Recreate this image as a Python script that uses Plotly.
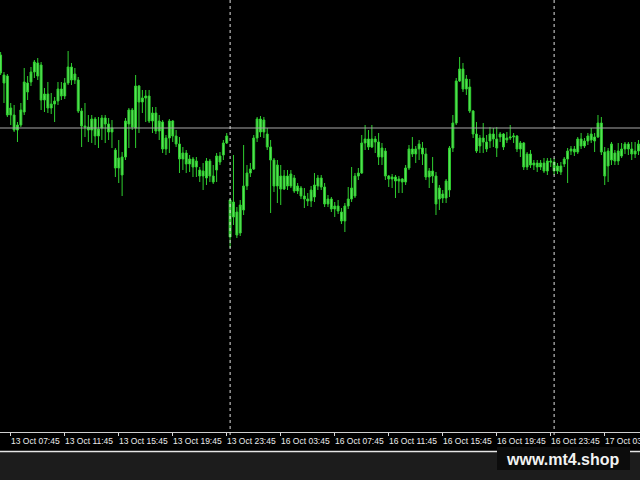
import plotly.graph_objects as go

# ---------------- data (15-minute bars, 13 Oct 07:00 -> 17 Oct 06:15) ----------------
opens = [
    112.45, 112.25, 112.24, 111.85, 111.85, 111.70, 111.75, 111.88, 112.17, 112.18,
    112.28, 112.37, 112.35, 112.00, 112.06, 111.92, 111.96, 111.99, 112.11, 112.04,
    112.17, 112.33, 112.20, 112.20, 111.89, 111.74, 111.73, 111.70, 111.81, 111.64,
    111.72, 111.82, 111.76, 111.68, 111.50, 111.32, 111.25, 111.43, 111.76, 111.90,
    111.72, 112.14, 111.98, 112.02, 112.04, 111.79, 111.87, 111.69, 111.78, 111.51,
    111.62, 111.79, 111.64, 111.56, 111.41, 111.47, 111.36, 111.41, 111.33, 111.30,
    111.24, 111.22, 111.39, 111.24, 111.30, 111.44, 111.45, 111.57, 111.00, 110.83,
    110.88, 110.67, 110.90, 111.14, 111.27, 111.31, 111.62, 111.81, 111.68, 111.66,
    111.53, 111.40, 111.14, 111.24, 111.11, 111.24, 111.14, 111.22, 111.09, 111.12,
    111.04, 111.01, 110.99, 111.03, 111.14, 111.22, 111.13, 110.96, 111.01, 110.91,
    110.94, 110.88, 110.79, 110.94, 111.01, 111.04, 111.24, 111.27, 111.57, 111.61,
    111.53, 111.61, 111.58, 111.43, 111.49, 111.24, 111.21, 111.23, 111.19, 111.21,
    111.18, 111.32, 111.51, 111.46, 111.51, 111.52, 111.46, 111.23, 111.29, 111.24,
    111.01, 111.06, 111.02, 111.10, 111.52, 111.77, 112.19, 112.31, 112.11, 112.13,
    111.89, 111.66, 111.54, 111.62, 111.58, 111.59, 111.66, 111.61, 111.63, 111.66,
    111.60, 111.62, 111.63, 111.64, 111.51, 111.57, 111.33, 111.46, 111.35, 111.37,
    111.33, 111.37, 111.29, 111.39, 111.38, 111.29, 111.34, 111.36, 111.41, 111.49,
    111.51, 111.48, 111.61, 111.54, 111.59, 111.60, 111.63, 111.63, 111.77, 111.48,
    111.34, 111.40, 111.47, 111.39, 111.44, 111.51, 111.56, 111.51, 111.46, 111.49,
]
highs = [
    112.48, 112.28, 112.26, 111.97, 111.95, 111.78, 111.97, 112.32, 112.24, 112.33,
    112.40, 112.42, 112.38, 112.12, 112.18, 112.07, 112.03, 112.18, 112.18, 112.22,
    112.49, 112.37, 112.32, 112.23, 111.92, 111.97, 111.85, 111.85, 111.83, 111.83,
    111.85, 111.85, 111.82, 111.80, 111.52, 111.60, 111.48, 111.82, 111.92, 111.92,
    112.25, 112.15, 112.10, 112.10, 112.10, 111.93, 111.93, 111.85, 111.80, 111.65,
    111.81, 111.80, 111.70, 111.63, 111.53, 111.50, 111.45, 111.43, 111.43, 111.33,
    111.37, 111.42, 111.41, 111.35, 111.47, 111.48, 111.60, 111.67, 111.01, 111.45,
    110.93, 111.00, 111.55, 111.35, 111.37, 111.65, 111.83, 111.84, 111.83, 111.72,
    111.60, 111.42, 111.40, 111.35, 111.30, 111.30, 111.30, 111.25, 111.17, 111.14,
    111.12, 111.07, 111.14, 111.27, 111.25, 111.25, 111.17, 111.05, 111.03, 110.98,
    111.00, 110.92, 110.97, 111.13, 111.33, 111.27, 111.32, 111.65, 111.75, 111.70,
    111.75, 111.64, 111.67, 111.57, 111.52, 111.25, 111.26, 111.25, 111.24, 111.22,
    111.35, 111.55, 111.63, 111.54, 111.60, 111.58, 111.52, 111.32, 111.43, 111.28,
    111.15, 111.10, 111.21, 111.54, 111.85, 112.22, 112.43, 112.37, 112.25, 112.21,
    111.90, 111.78, 111.65, 111.77, 111.65, 111.73, 111.72, 111.73, 111.68, 111.67,
    111.68, 111.75, 111.67, 111.65, 111.59, 111.58, 111.48, 111.50, 111.40, 111.40,
    111.40, 111.42, 111.42, 111.42, 111.42, 111.37, 111.38, 111.43, 111.52, 111.54,
    111.54, 111.63, 111.67, 111.62, 111.67, 111.72, 111.67, 111.85, 111.83, 111.53,
    111.52, 111.58, 111.50, 111.57, 111.57, 111.58, 111.58, 111.58, 111.58, 111.60,
]
lows = [
    112.25, 111.97, 111.83, 111.75, 111.68, 111.58, 111.73, 111.85, 112.00, 112.14,
    112.22, 112.20, 111.90, 111.88, 111.87, 111.86, 111.78, 111.95, 112.00, 112.01,
    112.15, 112.15, 112.16, 111.87, 111.53, 111.63, 111.58, 111.57, 111.55, 111.52,
    111.60, 111.57, 111.60, 111.52, 111.23, 111.17, 111.04, 111.40, 111.52, 111.70,
    111.52, 111.67, 111.87, 111.78, 111.77, 111.67, 111.66, 111.60, 111.47, 111.45,
    111.47, 111.58, 111.53, 111.27, 111.30, 111.27, 111.28, 111.23, 111.23, 111.18,
    111.10, 111.15, 111.18, 111.16, 111.18, 111.35, 111.40, 111.56, 110.52, 110.75,
    110.62, 110.64, 110.85, 111.10, 111.23, 111.30, 111.58, 111.63, 111.62, 111.50,
    110.87, 111.08, 110.97, 110.95, 111.10, 111.10, 111.12, 111.07, 111.06, 111.01,
    110.92, 110.94, 110.93, 110.98, 111.10, 111.10, 110.93, 110.93, 110.88, 110.83,
    110.86, 110.76, 110.68, 110.91, 110.98, 111.02, 111.20, 111.26, 111.50, 111.50,
    111.52, 111.47, 111.35, 111.35, 111.20, 111.13, 111.12, 111.02, 111.07, 111.07,
    111.15, 111.30, 111.43, 111.37, 111.40, 111.35, 111.20, 111.12, 111.17, 110.85,
    110.90, 110.97, 110.97, 111.03, 111.48, 111.75, 112.18, 112.08, 112.05, 111.87,
    111.62, 111.47, 111.47, 111.47, 111.48, 111.52, 111.53, 111.43, 111.58, 111.50,
    111.57, 111.60, 111.57, 111.48, 111.43, 111.30, 111.30, 111.32, 111.30, 111.28,
    111.30, 111.27, 111.25, 111.33, 111.25, 111.26, 111.25, 111.33, 111.17, 111.45,
    111.44, 111.46, 111.51, 111.52, 111.55, 111.57, 111.48, 111.62, 111.45, 111.15,
    111.18, 111.35, 111.35, 111.35, 111.42, 111.46, 111.45, 111.40, 111.42, 111.45,
]
closes = [
    112.27, 112.17, 111.85, 111.92, 111.70, 111.75, 111.90, 112.18, 112.08, 112.28,
    112.38, 112.24, 112.00, 112.06, 111.92, 111.96, 111.99, 112.11, 112.04, 112.17,
    112.33, 112.20, 112.26, 111.89, 111.74, 111.73, 111.70, 111.81, 111.64, 111.71,
    111.82, 111.76, 111.68, 111.72, 111.32, 111.42, 111.43, 111.79, 111.90, 111.73,
    112.14, 111.98, 112.02, 112.04, 111.79, 111.87, 111.69, 111.79, 111.51, 111.62,
    111.79, 111.64, 111.56, 111.41, 111.47, 111.36, 111.41, 111.33, 111.39, 111.24,
    111.29, 111.39, 111.24, 111.18, 111.44, 111.38, 111.57, 111.64, 110.63, 110.98,
    110.65, 110.95, 111.14, 111.27, 111.31, 111.62, 111.81, 111.68, 111.80, 111.53,
    111.40, 111.14, 111.35, 111.11, 111.24, 111.14, 111.26, 111.09, 111.14, 111.04,
    111.01, 110.99, 111.10, 111.15, 111.22, 111.13, 110.96, 111.01, 110.91, 110.94,
    110.89, 110.79, 110.94, 111.01, 111.12, 111.24, 111.27, 111.57, 111.61, 111.53,
    111.61, 111.58, 111.43, 111.52, 111.24, 111.21, 111.23, 111.19, 111.21, 111.18,
    111.32, 111.51, 111.46, 111.51, 111.56, 111.46, 111.23, 111.29, 111.24, 110.96,
    111.12, 111.02, 111.19, 111.52, 111.77, 112.19, 112.31, 112.11, 112.21, 111.89,
    111.66, 111.49, 111.62, 111.58, 111.51, 111.66, 111.61, 111.52, 111.66, 111.53,
    111.62, 111.63, 111.64, 111.51, 111.57, 111.33, 111.46, 111.35, 111.37, 111.33,
    111.37, 111.29, 111.39, 111.38, 111.29, 111.34, 111.28, 111.41, 111.49, 111.51,
    111.48, 111.61, 111.54, 111.59, 111.64, 111.66, 111.59, 111.77, 111.48, 111.24,
    111.49, 111.56, 111.39, 111.49, 111.51, 111.56, 111.51, 111.46, 111.49, 111.56,
]

tick_bars = [3, 19, 35, 51, 67, 83, 99, 115, 131, 147, 163, 179]
tick_labels = ["13 Oct 07:45", "13 Oct 11:45", "13 Oct 15:45", "13 Oct 19:45",
               "13 Oct 23:45", "16 Oct 03:45", "16 Oct 07:45", "16 Oct 11:45",
               "16 Oct 15:45", "16 Oct 19:45", "16 Oct 23:45", "17 Oct 03:45"]
offscreen_label = "13 Oct 03:45"
separator_bars = [68, 164]
hline_price = 111.72
watermark = "www.mt4.shop"

bars = list(range(len(opens)))

# ---------------- figure ----------------
W, H = 640, 480
PLOT_H = 432
BOTTOM = H - PLOT_H


def py(px_below):
    """paper y for a pixel offset below the plot area."""
    return -px_below / PLOT_H


GREEN_FILL = "#5ee65e"
GREEN_LINE = "#2fcf2f"

fig = go.Figure(go.Candlestick(
    x=bars, open=opens, high=highs, low=lows, close=closes,
    increasing=dict(fillcolor=GREEN_FILL, line=dict(color=GREEN_LINE, width=1)),
    decreasing=dict(fillcolor=GREEN_FILL, line=dict(color=GREEN_LINE, width=1)),
    whiskerwidth=0,
    hoverinfo="skip",
    showlegend=False,
))

shapes = [
    # dark strip at the bottom of the window
    dict(type="rect", xref="paper", yref="paper", x0=0, x1=1, y0=py(BOTTOM), y1=py(20),
         fillcolor="#1c1c1c", line=dict(width=0), layer="below"),
    # bottom frame line of the time axis
    dict(type="line", xref="paper", yref="paper", x0=0, x1=1, y0=py(19.5), y1=py(19.5),
         line=dict(color="#e6e6e6", width=1.5)),
    # horizontal price line
    dict(type="line", xref="paper", yref="y", x0=0, x1=1, y0=hline_price, y1=hline_price,
         line=dict(color="#a8a8a8", width=1)),
    # watermark box
    dict(type="rect", xref="paper", yref="paper", x0=497 / W, x1=630 / W, y0=py(38), y1=py(15),
         fillcolor="#0c0c0c", line=dict(width=0)),
]
for b in separator_bars:
    shapes.append(dict(type="line", xref="x", yref="paper", x0=b, x1=b, y0=py(3), y1=1,
                       line=dict(color="#e0e0e0", width=1, dash="dot")))

annotations = []
for b, lab in zip(tick_bars, tick_labels):
    annotations.append(dict(x=b, y=py(9), xref="x", yref="paper", text=lab,
                            showarrow=False, xanchor="left", yanchor="middle", xshift=-2,
                            font=dict(family="Liberation Sans", size=8.5, color="#ececec")))
annotations.append(dict(x=2 / W, y=py(9), xref="paper", yref="paper", text=offscreen_label,
                        showarrow=False, xanchor="right", yanchor="middle",
                        font=dict(family="Liberation Sans", size=8.5, color="#ececec")))
annotations.append(dict(x=563 / W, y=py(27), xref="paper", yref="paper", text=f"<b>{watermark}</b>",
                        showarrow=False, xanchor="center", yanchor="middle",
                        font=dict(family="Liberation Sans", size=16, color="#f2f2f2")))

fig.update_layout(
    width=W, height=H,
    margin=dict(l=0, r=0, t=0, b=BOTTOM, pad=0),
    paper_bgcolor="#000000", plot_bgcolor="#000000",
    boxgap=0.2,
    shapes=shapes, annotations=annotations,
    showlegend=False,
    xaxis=dict(range=[-0.18, 189.45], rangeslider=dict(visible=False),
               showgrid=False, zeroline=False, tickmode="array", tickvals=tick_bars,
               ticks="outside", ticklen=3, tickcolor="#d8d8d8", tickwidth=1,
               showticklabels=False, showline=True, linecolor="#cfcfcf", linewidth=1,
               fixedrange=True),
    yaxis=dict(range=[108.68, 113.00], visible=False, showgrid=False, zeroline=False,
               fixedrange=True),
)

fig.write_html("out.html", config={"displayModeBar": False},
               post_script="document.body.style.margin='0';document.body.style.background='#1c1c1c';")
